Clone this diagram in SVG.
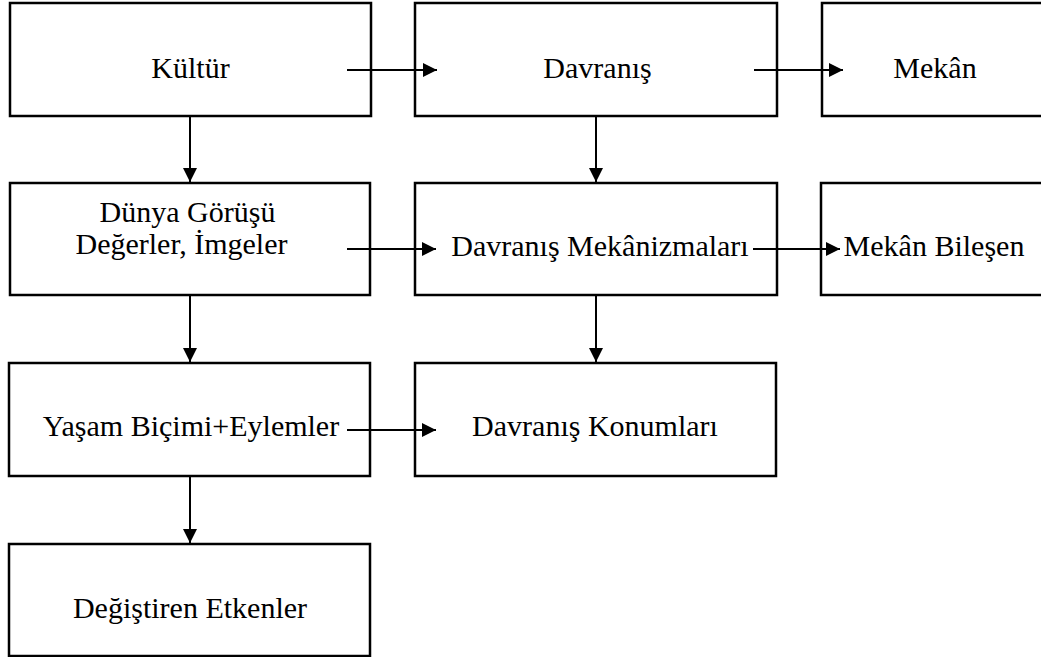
<svg xmlns="http://www.w3.org/2000/svg" width="1041" height="657" viewBox="0 0 1041 657">
<style>
.box{fill:#fff;stroke:#000;stroke-width:2.5}
.t{font-family:"Liberation Serif","Times New Roman",serif;font-size:30px;fill:#000;text-anchor:middle}
.c{stroke:#000;stroke-width:2;fill:none;marker-end:url(#ah)}
</style>
<defs>
<marker id="ah" markerUnits="userSpaceOnUse" markerWidth="14" markerHeight="14" refX="14" refY="7" orient="auto">
<path d="M0,0 L14,7 L0,14 z" fill="#000"/>
</marker>
</defs>
<rect width="1041" height="657" fill="#fff"/>
<g id="kultur"><rect class="box" x="10" y="3" width="361" height="113"/><text class="t" x="190.5" y="77.5">Kültür</text></g>
<g id="davranis"><rect class="box" x="415" y="3" width="362" height="113"/><text class="t" x="597.5" y="77.5">Davranış</text></g>
<g id="mekan"><rect class="box" x="822" y="3" width="226" height="113"/><text class="t" x="935" y="77.5">Mekân</text></g>
<g id="dunya"><rect class="box" x="10" y="183" width="360" height="112"/><text class="t" x="187.5" y="221.5">Dünya Görüşü</text><text class="t" x="181.5" y="253.5">Değerler, İmgeler</text></g>
<g id="mekanizmalar"><rect class="box" x="415" y="183" width="362" height="112"/><text class="t" x="600" y="255.5">Davranış Mekânizmaları</text></g>
<g id="bilesen"><rect class="box" x="821" y="183" width="227" height="112"/><text class="t" x="934" y="255.5">Mekân Bileşen</text></g>
<g id="yasam"><rect class="box" x="9" y="363" width="361" height="113"/><text class="t" x="191" y="435.5">Yaşam Biçimi+Eylemler</text></g>
<g id="konumlar"><rect class="box" x="415" y="363" width="361" height="113"/><text class="t" x="595" y="435.5">Davranış Konumları</text></g>
<g id="etkenler"><rect class="box" x="9" y="544" width="361" height="112"/><text class="t" x="190" y="617.5">Değiştiren Etkenler</text></g>
<g id="connectors">
<line class="c" x1="347" y1="70" x2="437" y2="70"/>
<line class="c" x1="754" y1="70" x2="843" y2="70"/>
<line class="c" x1="347" y1="249" x2="436" y2="249"/>
<line class="c" x1="753" y1="249" x2="840" y2="249"/>
<line class="c" x1="347" y1="430" x2="436" y2="430"/>
<line class="c" x1="190" y1="116" x2="190" y2="182"/>
<line class="c" x1="596" y1="116" x2="596" y2="182"/>
<line class="c" x1="190" y1="295" x2="190" y2="362"/>
<line class="c" x1="596" y1="295" x2="596" y2="362"/>
<line class="c" x1="190" y1="476" x2="190" y2="543"/>
</g>
</svg>
